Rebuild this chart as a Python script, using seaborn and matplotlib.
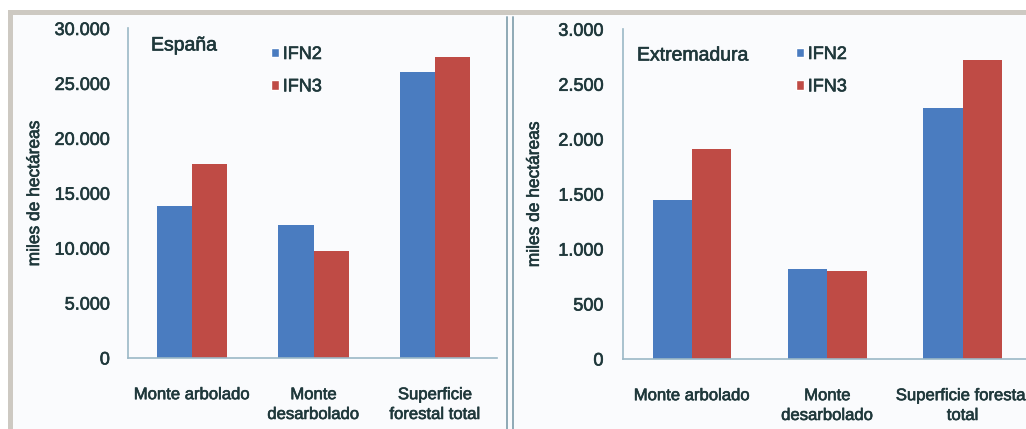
import matplotlib
matplotlib.use("Agg")
import matplotlib.pyplot as plt
import matplotlib.patches as mpatches
import matplotlib.patheffects as pe
import matplotlib.ticker as mticker
import pandas as pd
import seaborn as sns

# Superficie forestal (miles de hectáreas), IFN2 vs IFN3
categorias = ["Monte arbolado", "Monte\ndesarbolado", "Superficie\nforestal total"]
categorias_ext = ["Monte arbolado", "Monte\ndesarbolado", "Superficie forestal\ntotal"]
inventarios = ["IFN2", "IFN3"]
espana_ifn2 = [13800, 12100, 26000]
espana_ifn3 = [17700, 9700, 27400]
extremadura_ifn2 = [1450, 815, 2280]
extremadura_ifn3 = [1915, 800, 2720]
ticks_espana = [0, 5000, 10000, 15000, 20000, 25000, 30000]
ticks_extremadura = [0, 500, 1000, 1500, 2000, 2500, 3000]

AZUL = "#4a7cc0"
ROJO = "#bf4b45"
TEXTO = "#1f383b"
EJE = "#9bb8c6"
FONDO = "#fafbfd"

sns.set_theme(style="white")
plt.rcParams["font.family"] = ["Liberation Sans", "DejaVu Sans"]
plt.rcParams["text.color"] = TEXTO
plt.rcParams["axes.labelcolor"] = TEXTO
plt.rcParams["xtick.color"] = TEXTO
plt.rcParams["ytick.color"] = TEXTO

# trazo fino para engrosar ligeramente el texto
GRUESO = [pe.withStroke(linewidth=0.45, foreground=TEXTO)]


def tabla(cats, v2, v3):
    return pd.DataFrame({
        "categoria": cats * 2,
        "inventario": [inventarios[0]] * 3 + [inventarios[1]] * 3,
        "valor": v2 + v3,
    })


def miles(x, pos):
    return f"{int(x):,}".replace(",", ".")


fig = plt.figure(figsize=(10.26, 4.29), dpi=100, facecolor="white")

# fondo y marco gris exterior
fig.patches.append(mpatches.Rectangle((8 / 1026, 0), 1, 1 - 10 / 429,
                                      transform=fig.transFigure,
                                      facecolor=FONDO, edgecolor="none", zorder=-3))
fig.patches.append(mpatches.Rectangle((8 / 1026, 1 - 15 / 429), 1, 5 / 429,
                                      transform=fig.transFigure,
                                      facecolor="#cdc9c2", edgecolor="none", zorder=-2))
fig.patches.append(mpatches.Rectangle((8 / 1026, 0), 5 / 1026, 1 - 10 / 429,
                                      transform=fig.transFigure,
                                      facecolor="#cdc9c2", edgecolor="none", zorder=-2))
# separador doble entre paneles
for xs in (506.5, 512.5):
    fig.add_artist(plt.Line2D([xs / 1026, xs / 1026], [0, 1 - 17 / 429],
                              transform=fig.transFigure, color="#8fa9b6", lw=1.4,
                              zorder=-1))

paneles = [
    dict(rect=[128 / 1026, 71 / 429, 369 / 1026, 329.5 / 429],
         df=tabla(categorias, espana_ifn2, espana_ifn3), ticks=ticks_espana,
         xlim=(-0.527, 2.51), nombre="España", nombre_xy=(151, 46),
         ley_xy=(271, 46), ylab_x=-0.233, pad=10),
    dict(rect=[623 / 1026, 70 / 429, 406 / 1026, 329.7 / 429],
         df=tabla(categorias_ext, extremadura_ifn2, extremadura_ifn3), ticks=ticks_extremadura,
         xlim=(-0.51, 2.49), nombre="Extremadura", nombre_xy=(637, 56),
         ley_xy=(796, 46), ylab_x=-0.200, pad=11),
]

for p in paneles:
    ax = fig.add_axes(p["rect"])
    ax.set_facecolor("none")
    sns.barplot(data=p["df"], x="categoria", y="valor", hue="inventario",
                palette=[AZUL, ROJO], width=0.58, gap=0, saturation=1,
                edgecolor="none", linewidth=0, ax=ax)
    ax.set_xlim(*p["xlim"])
    ax.set_ylim(p["ticks"][0], p["ticks"][-1])
    ax.set_yticks(p["ticks"])
    ax.yaxis.set_major_formatter(mticker.FuncFormatter(miles))
    for s in ("top", "right"):
        ax.spines[s].set_visible(False)
    for s in ("left", "bottom"):
        ax.spines[s].set_color(EJE)
        ax.spines[s].set_linewidth(1.2)
    ax.tick_params(axis="y", length=3, width=1, color=EJE, pad=p["pad"], labelsize=13)
    ax.tick_params(axis="x", length=0, pad=21, labelsize=12)
    for t in ax.get_xticklabels():
        t.set_linespacing(1.4)
        t.set_path_effects(GRUESO)
    for t in ax.get_yticklabels():
        t.set_path_effects(GRUESO)
    ax.set_xlabel("")
    ax.set_ylabel("miles de hectáreas", fontsize=12.5, path_effects=GRUESO)
    ax.yaxis.set_label_coords(p["ylab_x"], 0.5)

    fig.text(p["nombre_xy"][0] / 1026, 1 - p["nombre_xy"][1] / 429, p["nombre"],
             fontsize=14, ha="left", va="center", path_effects=GRUESO)

    handles = [mpatches.Patch(facecolor=AZUL), mpatches.Patch(facecolor=ROJO)]
    ley = ax.legend(handles, inventarios, loc="upper left",
                    bbox_to_anchor=(p["ley_xy"][0] / 1026, 1 - p["ley_xy"][1] / 429),
                    bbox_transform=fig.transFigure, frameon=False, fontsize=13,
                    handlelength=0.45, handleheight=0.45, handletextpad=0.2,
                    labelspacing=0.85, borderpad=0, borderaxespad=0)
    for t in ley.get_texts():
        t.set_path_effects(GRUESO)

fig.savefig("out.png", dpi=100, facecolor="white")
